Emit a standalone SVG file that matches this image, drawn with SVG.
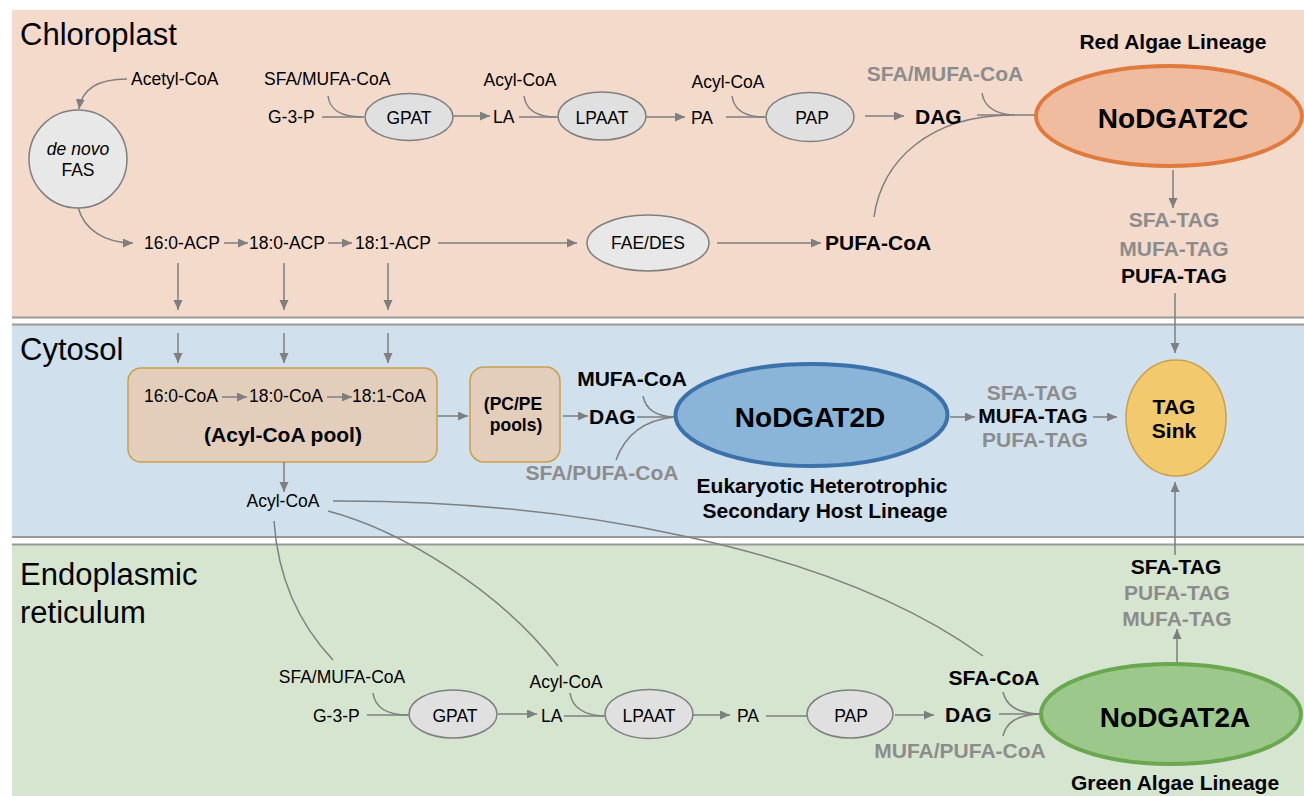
<svg xmlns="http://www.w3.org/2000/svg" width="1304" height="796" viewBox="0 0 1304 796">
<defs>
<marker id="ah" markerUnits="userSpaceOnUse" markerWidth="11" markerHeight="10" refX="10" refY="4.5" orient="auto"><path d="M0,0 L10,4.5 L0,9 z" fill="#7f7f7f"/></marker>
<style>
text{font-family:"Liberation Sans",Arial,sans-serif;fill:#000}
.t{font-size:31px}
.s{font-size:17.5px}
.b{font-size:21px;font-weight:bold}
.g{fill:#8c8c8c}
.m{text-anchor:middle}
.big{font-size:28px;font-weight:bold;text-anchor:middle}
.enz{fill:#e0e0e0;stroke:#7f7f7f;stroke-width:1.5}
.ln{fill:none;stroke:#7f7f7f;stroke-width:1.5}
.ar{fill:none;stroke:#7f7f7f;stroke-width:1.5;marker-end:url(#ah)}
.sep{stroke:#999;stroke-width:2}
.box{fill:#e3cdbb;stroke:#c9a04a;stroke-width:1.5}
</style>
</defs>
<g id="panels">
<rect x="12" y="10" width="1292" height="308" fill="#f4dacb"/>
<line class="sep" x1="12" y1="317.5" x2="1304" y2="317.5"/>
<rect x="12" y="324" width="1292" height="213" fill="#d0e0ec"/>
<line class="sep" x1="12" y1="324.5" x2="1304" y2="324.5"/>
<line class="sep" x1="12" y1="537" x2="1304" y2="537"/>
<rect x="12" y="544" width="1292" height="252" fill="#d6e5d0"/>
<line class="sep" x1="12" y1="544.5" x2="1304" y2="544.5"/>
<text class="t" x="20" y="45">Chloroplast</text>
<text class="t" x="20" y="360">Cytosol</text>
<text class="t" x="20" y="585">Endoplasmic</text>
<text class="t" x="20" y="623">reticulum</text>
</g>
<g id="acylpool"><rect class="box" x="128" y="368" width="309" height="94" rx="13"/>
<text class="s" x="144" y="402">16:0-CoA</text><text class="s" x="249" y="402">18:0-CoA</text><text class="s" x="352" y="402">18:1-CoA</text>
<text class="b m" x="283" y="442">(Acyl-CoA pool)</text></g>
<g id="pcpe"><rect class="box" x="470" y="367" width="90" height="95" rx="14"/>
<text class="m" x="513" y="410" font-size="17.5" font-weight="bold">(PC/PE</text><text class="m" x="516" y="431" font-size="17.5" font-weight="bold">pools)</text></g>
<g id="connectors">
<path class="ar" d="M127,79 C100,79 82,88 79,109"/>
<path class="ar" d="M78,207 C84,230 105,243 133,243"/>
<line class="ar" x1="224" y1="243" x2="248" y2="243"/>
<line class="ar" x1="328" y1="243" x2="352" y2="243"/>
<line class="ar" x1="438" y1="243" x2="577" y2="243"/>
<line class="ar" x1="717" y1="243" x2="821" y2="243"/>
<path class="ln" d="M874,217 C882,160 930,116 1010,115"/>
<line class="ln" x1="322" y1="117" x2="364" y2="117"/>
<path class="ln" d="M328,96 C330,110 340,117 362,117"/>
<line class="ar" x1="453" y1="116" x2="490" y2="116"/>
<line class="ln" x1="519" y1="117" x2="558" y2="117"/>
<path class="ln" d="M524,96 C526,110 536,117 556,117"/>
<line class="ar" x1="646" y1="117" x2="685" y2="117"/>
<line class="ln" x1="726" y1="117" x2="766" y2="117"/>
<path class="ln" d="M732,96 C734,110 744,117 764,117"/>
<line class="ar" x1="865" y1="116" x2="904" y2="116"/>
<line class="ln" x1="977" y1="115" x2="1036" y2="115"/>
<path class="ln" d="M982,93 C984,106 994,114 1014,115"/>
<line class="ar" x1="1173" y1="170" x2="1173" y2="208"/>
<line class="ar" x1="1175" y1="293" x2="1175" y2="353"/>
<line class="ar" x1="178" y1="263" x2="178" y2="310"/>
<line class="ar" x1="284" y1="263" x2="284" y2="310"/>
<line class="ar" x1="388" y1="263" x2="388" y2="310"/>
<line class="ar" x1="178" y1="333" x2="178" y2="363"/>
<line class="ar" x1="284" y1="333" x2="284" y2="363"/>
<line class="ar" x1="388" y1="333" x2="388" y2="363"/>
<line class="ar" x1="222" y1="397" x2="247" y2="397"/>
<line class="ar" x1="327" y1="397" x2="352" y2="397"/>
<line class="ar" x1="438" y1="416" x2="468" y2="416"/>
<line class="ar" x1="563" y1="416" x2="588" y2="416"/>
<line class="ln" x1="637" y1="417" x2="675" y2="417"/>
<path class="ln" d="M643,396 C646,410 656,416 674,417"/>
<path class="ln" d="M616,460 C625,435 645,420 674,417"/>
<line class="ar" x1="950" y1="417" x2="975" y2="417"/>
<line class="ar" x1="1093" y1="417" x2="1117" y2="417"/>
<line class="ar" x1="1175" y1="555" x2="1175" y2="482"/>
<line class="ar" x1="284" y1="462" x2="284" y2="492"/>
<path class="ln" d="M333,501 C560,500 830,545 983,656"/>
<path class="ln" d="M328,511 C400,530 500,590 558,666"/>
<path class="ln" d="M274,521 C278,580 300,625 333,660"/>
<line class="ln" x1="367" y1="715" x2="410" y2="715"/>
<path class="ln" d="M373,693 C375,707 385,715 408,715"/>
<line class="ar" x1="498" y1="714" x2="537" y2="714"/>
<line class="ln" x1="564" y1="716" x2="606" y2="716"/>
<path class="ln" d="M570,693 C572,707 582,715 604,716"/>
<line class="ar" x1="693" y1="715" x2="730" y2="715"/>
<line class="ln" x1="766" y1="716" x2="808" y2="716"/>
<line class="ar" x1="895" y1="715" x2="934" y2="715"/>
<line class="ln" x1="999" y1="714" x2="1042" y2="714"/>
<path class="ln" d="M1003,692 C1006,705 1016,713 1040,714"/>
<path class="ln" d="M1003,736 C1006,723 1016,715 1040,714"/>
<line class="ar" x1="1177" y1="663" x2="1177" y2="629"/>
</g>
<g id="chloroplast-labels">
<text class="s" x="131" y="85">Acetyl-CoA</text>
<text class="s" x="264" y="85">SFA/MUFA-CoA</text>
<text class="s" x="268" y="123">G-3-P</text>
<text class="s" x="493" y="123">LA</text>
<text class="s m" x="520" y="86">Acyl-CoA</text>
<text class="s" x="691" y="124">PA</text>
<text class="s m" x="728" y="88">Acyl-CoA</text>
<text class="s" x="144" y="249">16:0-ACP</text>
<text class="s" x="249" y="249">18:0-ACP</text>
<text class="s" x="355" y="249">18:1-ACP</text>
<text class="b" x="825" y="250">PUFA-CoA</text>
<text class="b g m" x="945" y="81">SFA/MUFA-CoA</text>
<text class="b" x="915" y="124">DAG</text>
<text class="b m" x="1173" y="49">Red Algae Lineage</text>
<text class="b g m" x="1174" y="227">SFA-TAG</text>
<text class="b g m" x="1174" y="256">MUFA-TAG</text>
<text class="b m" x="1174" y="283">PUFA-TAG</text>
</g>
<g id="fas"><circle cx="78" cy="159" r="49" fill="#e8e8e8" stroke="#7f7f7f" stroke-width="1.5"/><text class="s m" x="78" y="155" font-style="italic">de novo</text><text class="s m" x="78" y="176">FAS</text></g>
<g id="gpat-c"><ellipse class="enz" cx="409" cy="117" rx="44" ry="23.5"/><text class="s m" x="409" y="124">GPAT</text></g>
<g id="lpaat-c"><ellipse class="enz" cx="602" cy="116" rx="44" ry="24"/><text class="s m" x="602" y="124">LPAAT</text></g>
<g id="pap-c"><ellipse class="enz" cx="810" cy="117" rx="44" ry="24.5"/><text class="s m" x="812" y="124">PAP</text></g>
<g id="faedes"><ellipse cx="648" cy="243" rx="61" ry="28" fill="#e8e8e8" stroke="#7f7f7f" stroke-width="1.5"/><text class="s m" x="648" y="249">FAE/DES</text></g>
<g id="nodgat2c"><ellipse cx="1169" cy="116" rx="133" ry="50" fill="#f0bc9f" stroke="#e07b3e" stroke-width="4"/><text class="big" x="1173" y="128">NoDGAT2C</text></g>
<g id="cytosol-labels">
<text class="s m" x="283" y="507">Acyl-CoA</text>
<text class="b m" x="632" y="386">MUFA-CoA</text>
<text class="b" x="589" y="424">DAG</text>
<text class="b g m" x="602" y="480">SFA/PUFA-CoA</text>
<text class="b m" x="822" y="493">Eukaryotic Heterotrophic</text>
<text class="b m" x="825" y="518">Secondary Host Lineage</text>
<text class="b g m" x="1032" y="400">SFA-TAG</text>
<text class="b m" x="1033" y="423">MUFA-TAG</text>
<text class="b g m" x="1035" y="447">PUFA-TAG</text>
</g>
<g id="nodgat2d"><ellipse cx="811.5" cy="415" rx="136" ry="51" fill="#8ab4d8" stroke="#3c72aa" stroke-width="4"/><text class="big" x="810" y="427">NoDGAT2D</text></g>
<g id="tagsink"><ellipse cx="1176" cy="418" rx="50" ry="58" fill="#f3c96e" stroke="#c9a04a" stroke-width="1.5"/><text class="b m" x="1174" y="414">TAG</text><text class="b m" x="1174" y="438">Sink</text></g>
<g id="er-labels">
<text class="s m" x="342" y="683">SFA/MUFA-CoA</text>
<text class="s" x="313" y="722">G-3-P</text>
<text class="s" x="541" y="722">LA</text>
<text class="s m" x="566" y="688">Acyl-CoA</text>
<text class="s" x="737" y="722">PA</text>
<text class="b" x="945" y="722">DAG</text>
<text class="b m" x="994" y="685">SFA-CoA</text>
<text class="b g m" x="960" y="758">MUFA/PUFA-CoA</text>
<text class="b m" x="1176" y="574">SFA-TAG</text>
<text class="b g m" x="1177" y="600">PUFA-TAG</text>
<text class="b g m" x="1177" y="626">MUFA-TAG</text>
<text class="b m" x="1175" y="790">Green Algae Lineage</text>
</g>
<g id="gpat-er"><ellipse class="enz" cx="453" cy="714" rx="44" ry="24"/><text class="s m" x="455" y="722">GPAT</text></g>
<g id="lpaat-er"><ellipse class="enz" cx="649" cy="714" rx="44" ry="24.5"/><text class="s m" x="649" y="722">LPAAT</text></g>
<g id="pap-er"><ellipse class="enz" cx="850" cy="714" rx="43" ry="24"/><text class="s m" x="851" y="722">PAP</text></g>
<g id="nodgat2a"><ellipse cx="1171" cy="714" rx="130" ry="50" fill="#9dc88c" stroke="#6aa84f" stroke-width="4"/><text class="big" x="1175" y="727">NoDGAT2A</text></g>
</svg>
